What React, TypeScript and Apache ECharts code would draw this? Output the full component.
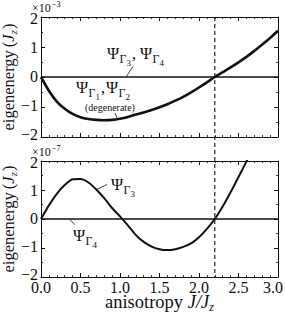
import React, { useEffect, useRef } from "react";
import * as echarts from "echarts";

// ---------- data ----------
const J_TOP = [0.0, 0.1, 0.2, 0.3, 0.4, 0.5, 0.6, 0.7, 0.8, 0.9, 1.0, 1.1, 1.2, 1.3, 1.4, 1.5, 1.6, 1.7, 1.8, 1.9, 2.0, 2.1, 2.2, 2.3, 2.4, 2.5, 2.6, 2.7, 2.8, 2.9, 3.0];
// eigenenergy of Psi_G1, Psi_G2 (degenerate), units 1e-3 Jz
const E_TOP = [0, -0.46, -0.82, -1.06, -1.23, -1.34, -1.4, -1.43, -1.44, -1.43, -1.39, -1.33, -1.25, -1.18, -1.1, -1.01, -0.91, -0.79, -0.66, -0.51, -0.35, -0.18, 0, 0.16, 0.32, 0.49, 0.67, 0.87, 1.08, 1.3, 1.54];
const J_BOT = [0.0, 0.1, 0.2, 0.3, 0.4, 0.5, 0.6, 0.7, 0.8, 0.9, 1.0, 1.1, 1.2, 1.3, 1.4, 1.5, 1.6, 1.7, 1.8, 1.9, 2.0, 2.1, 2.2, 2.3, 2.4, 2.5, 2.6, 2.7, 2.8];
// eigenenergy of Psi_G3, units 1e-7 Jz
const E_BOT = [0, 0.47, 0.87, 1.17, 1.37, 1.38, 1.26, 1.02, 0.72, 0.38, 0.09, -0.22, -0.55, -0.79, -0.95, -1.04, -1.07, -1.04, -0.96, -0.84, -0.63, -0.34, 0, 0.43, 0.92, 1.45, 1.98, 2.55, 3.15];
// reference states (Psi_G3, Psi_G4 on top; Psi_G4 below) sit at zero
const ZERO_J = [0, 3];
const ZERO_E = [0, 0];
const CRITICAL_J = 2.2;
const X_MIN = 0, X_MAX = 3, X_STEP = 0.5;
const Y_MIN = -2, Y_MAX = 2, Y_STEP = 1;
const X_TICKS = [0, 0.5, 1, 1.5, 2, 2.5, 3];
const Y_TICKS = [-2, -1, 0, 1, 2];

const FONT = "Liberation Serif";
const INK = "#111";
const BASE = 14;
const W = 285, H = 319;

const zip = (a: number[], b: number[]) => a.map((v, i) => [v, b[i]]);

const canvas = document.createElement("canvas");
const ctx = canvas.getContext("2d")!;
function tw(text: string, size: number, italic?: boolean) {
  ctx.font = `${italic ? "italic " : ""}${BASE}px "${FONT}"`;
  return (ctx.measureText(text).width * size) / BASE;
}

type Piece = { t: string; size: number; dy?: number; italic?: boolean; dx?: number };

function compose(x0: number, baseline: number, pieces: Piece[], anchor: "left" | "center" | "right" = "left") {
  const total = pieces.reduce((s, p) => s + tw(p.t, p.size, p.italic) + (p.dx || 0), 0);
  let cur = anchor === "center" ? x0 - total / 2 : anchor === "right" ? x0 - total : x0;
  const out: any[] = [];
  for (const p of pieces) {
    cur += p.dx || 0;
    const s = p.size / BASE;
    const st: any = {
      text: p.t,
      fontFamily: FONT,
      fontSize: BASE,
      fill: INK,
      align: "left",
      verticalAlign: "middle",
    };
    if (p.italic) st.fontStyle = "italic";
    out.push({
      type: "text",
      x: cur,
      y: baseline + (p.dy || 0) - 0.34 * p.size,
      scaleX: s,
      scaleY: s,
      z: 20,
      style: st,
    });
    cur += tw(p.t, p.size, p.italic);
  }
  return out;
}

function psi(n: string, size = 16.5): Piece[] {
  return [
    { t: "Ψ", size },
    { t: "Γ", size: 12, dy: 4.5, dx: 0.3 },
    { t: n, size: 9, dy: 7.5 },
  ];
}

function leader(x1: number, y1: number, x2: number, y2: number) {
  return {
    type: "line",
    z: 20,
    shape: { x1, y1, x2, y2 },
    style: { stroke: INK, lineWidth: 0.8 },
  };
}

const fmtY = (v: number) => (v < 0 ? "\u2212" + Math.abs(v) : String(v));
const fmtX = (v: number) => v.toFixed(1);

function baseOption() {
  const line = { color: INK, width: 1 };
  const xAx = (grid: number, pos: "bottom" | "top") => ({
    type: "value",
    gridIndex: grid,
    position: pos,
    min: X_MIN,
    max: X_MAX,
    interval: X_STEP,
    axisLine: { show: true, onZero: false, lineStyle: line },
    axisTick: { show: true, inside: true, length: 4, lineStyle: line },
    minorTick: { show: true, splitNumber: 5, length: 2, lineStyle: { color: INK, width: 0.8 } },
    splitLine: { show: false },
    minorSplitLine: { show: false },
    axisLabel: { show: false },
  });
  const yAx = (grid: number, pos: "left" | "right") => ({
    type: "value",
    gridIndex: grid,
    position: pos,
    min: Y_MIN,
    max: Y_MAX,
    interval: Y_STEP,
    axisLine: { show: true, onZero: false, lineStyle: line },
    axisTick: { show: true, inside: true, length: 4, lineStyle: line },
    minorTick: { show: true, splitNumber: 2, length: 2, lineStyle: { color: INK, width: 0.8 } },
    splitLine: { show: false },
    minorSplitLine: { show: false },
    axisLabel: { show: false },
  });
  const series = (xi: number, yi: number, d: number[][], w: number) => ({
    type: "line",
    xAxisIndex: xi,
    yAxisIndex: yi,
    data: d,
    symbol: "none",
    smooth: 0.2,
    clip: true,
    lineStyle: { color: INK, width: w },
    silent: true,
  });
  return {
    animation: false,
    backgroundColor: "#fff",
    textStyle: { fontFamily: FONT },
    grid: [
      { left: 41, top: 17, width: 237, height: 120 },
      { left: 41, top: 161, width: 237, height: 116 },
    ],
    xAxis: [xAx(0, "bottom"), xAx(0, "top"), xAx(1, "bottom"), xAx(1, "top")],
    yAxis: [yAx(0, "left"), yAx(0, "right"), yAx(1, "left"), yAx(1, "right")],
    series: [
      series(0, 0, zip(ZERO_J, ZERO_E), 1.5),
      series(0, 0, zip(J_TOP, E_TOP), 2.6),
      series(2, 2, zip(ZERO_J, ZERO_E), 1.5),
      series(2, 2, zip(J_BOT, E_BOT), 2),
    ],
  };
}

export default function App() {
  const ref = useRef<HTMLDivElement>(null);
  useEffect(() => {
    const el = ref.current!;
    // probe instance of the same size, only used to read the library's scales
    const probe = echarts.init(document.createElement("div"), null, { renderer: "svg", width: W, height: H });
    probe.setOption(baseOption());
    const p0 = (x: number, y: number) => probe.convertToPixel({ gridIndex: 0 }, [x, y]) as number[];
    const p1 = (x: number, y: number) => probe.convertToPixel({ gridIndex: 1 }, [x, y]) as number[];
    const xc = p1(CRITICAL_J, 0)[0];
    const xLeft = p1(X_MIN, 0)[0];
    const xRight = p1(X_MAX, 0)[0];
    const xMid = (xLeft + xRight) / 2;
    const yTop = p0(0, Y_MAX)[1];
    const topMid = p0(0, 0)[1];
    const botMid = p1(0, 0)[1];
    const yBot = p1(0, Y_MIN)[1];
    const yTicks0 = Y_TICKS.map((v) => p0(0, v)[1]);
    const yTicks1 = Y_TICKS.map((v) => p1(0, v)[1]);
    const xTicks = X_TICKS.map((v) => p1(v, 0)[0]);
    probe.dispose();

    const tickSize = 16;
    const xLabels: any[] = [];
    X_TICKS.forEach((v, i) => {
      const t = fmtX(v);
      const w = tw(t, tickSize);
      let cx = xTicks[i];
      if (cx + w / 2 > W - 2) cx = W - 2 - w / 2;
      xLabels.push(...compose(cx, yBot + 16, [{ t, size: tickSize }], "center"));
    });
    const yLabels: any[] = [];
    Y_TICKS.forEach((v, i) => {
      const off = 5 + (v / Y_MAX) * 2;
      yLabels.push(...compose(xLeft - 3, yTicks0[i] + off, [{ t: fmtY(v), size: tickSize }], "right"));
      yLabels.push(...compose(xLeft - 3, yTicks1[i] + off, [{ t: fmtY(v), size: tickSize }], "right"));
    });

    const yName: Piece[] = [
      { t: "eigenenergy", size: 16.5 },
      { t: "(", size: 16.5, dx: 3 },
      { t: "J", size: 16.5, italic: true },
      { t: "z", size: 11, italic: true, dy: 3 },
      { t: ")", size: 16.5, dx: 1 },
    ];

    const graphic = [
      {
        type: "line",
        z: 15,
        shape: { x1: xc, y1: yTop, x2: xc, y2: yBot },
        style: { stroke: INK, lineWidth: 1.1, lineDash: [4, 3] },
      },
      ...xLabels,
      ...yLabels,
      ...compose(32, 12, [{ t: "×10", size: 12 }, { t: "\u22123", size: 9, dy: -5, dx: 0.5 }]),
      ...compose(32, 156, [{ t: "×10", size: 12 }, { t: "\u22127", size: 9, dy: -5, dx: 0.5 }]),
      { type: "group", x: 0, y: topMid, rotation: Math.PI / 2, children: compose(0, 14, yName, "center") },
      { type: "group", x: 0, y: botMid, rotation: Math.PI / 2, children: compose(0, 14, yName, "center") },
      ...compose(xMid, 308, [
        { t: "anisotropy ", size: 18.5 },
        { t: "J/J", size: 18.5, italic: true },
        { t: "z", size: 12, italic: true, dy: 3.5 },
      ], "center"),
      // top annotations
      ...compose(107, 59, [...psi("3"), { t: ",", size: 16.5, dx: 1 }, ...psi("4").map((p, i) => (i === 0 ? { ...p, dx: 4 } : p))]),
      leader(126, 77, 133, 66.5),
      ...compose(76, 93, [...psi("1"), { t: ",", size: 16.5, dx: 1 }, ...psi("2").map((p, i) => (i === 0 ? { ...p, dx: 1 } : p))]),
      ...compose(110, 110.5, [{ t: "(degenerate)", size: 10 }], "center"),
      leader(115, 113, 118, 120),
      // bottom annotations
      ...compose(111, 190, psi("3")),
      leader(96.5, 189.5, 107, 184.5),
      ...compose(73, 241, psi("4")),
      leader(69.5, 219, 74.5, 224.5),
    ];

    const chart = echarts.init(el, null, { renderer: "svg" });
    chart.setOption({ ...baseOption(), graphic });
    return () => chart.dispose();
  }, []);
  return (
    <div
      ref={ref}
      style={{ position: "fixed", left: 0, top: 0, width: W, height: H, fontFamily: FONT }}
    />
  );
}
